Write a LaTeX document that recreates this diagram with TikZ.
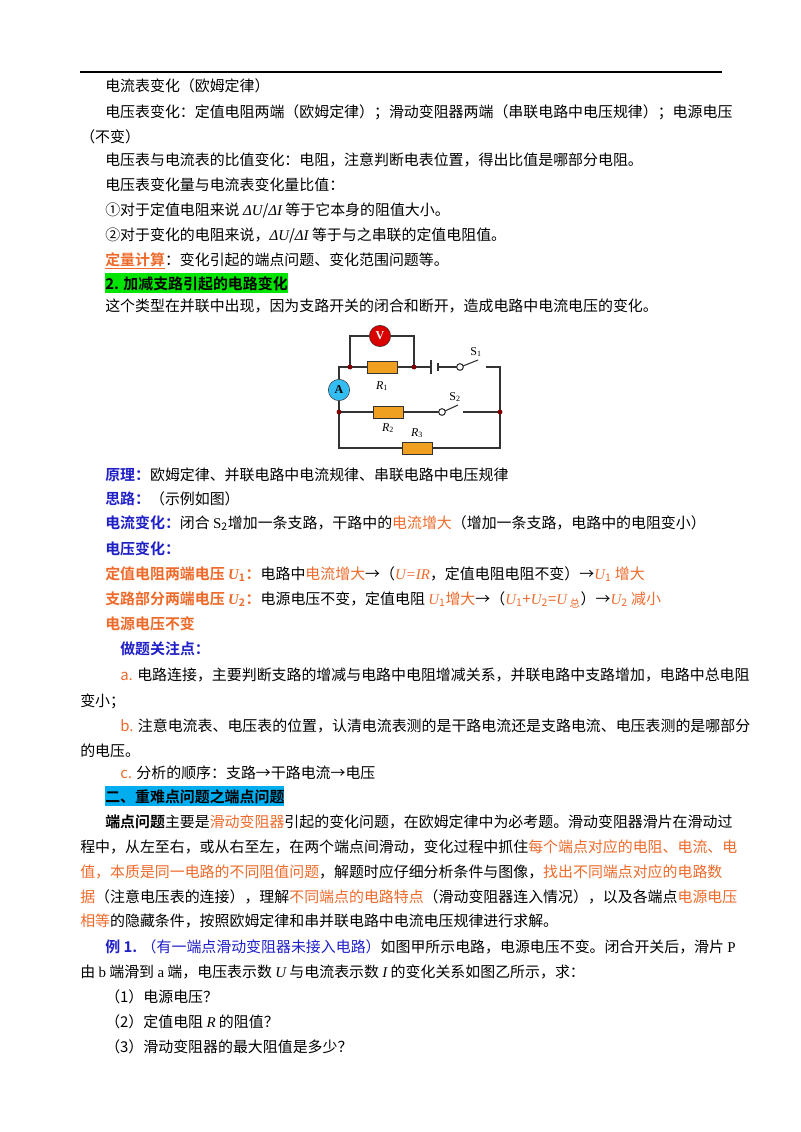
\documentclass[tikz,border=0pt]{standalone}
\usepackage{fontspec}
\setmainfont{Noto Sans CJK SC}[BoldFont={Noto Sans CJK SC Bold}]
\newfontfamily\lat{Liberation Serif}
\usepackage{xcolor}
\definecolor{orng}{HTML}{EE6A2A}
\definecolor{blu}{HTML}{1F1FC8}
\definecolor{wire}{HTML}{333333}
\definecolor{res}{HTML}{F0A020}
\newcommand{\hl}[1]{\textcolor{orng}{#1}}
\newcommand{\bhl}[1]{\textcolor{orng}{\bfseries #1}}
\newcommand{\bl}[1]{\textcolor{blu}{\bfseries #1}}
\newcommand{\vr}[1]{{\lat\itshape #1}}
\tikzset{
  ln/.style={anchor=base west,inner sep=0pt,font=\fontsize{11.2}{13}\selectfont},
  resbox/.style={draw=wire,fill=res,minimum width=22.5pt,minimum height=9pt,inner sep=0pt},
  meter/.style={circle,draw=wire,minimum size=16pt,inner sep=0pt,font=\lat\bfseries\small},
  dot/.style={circle,fill=red!50!black,inner sep=1.3pt},
  lbl/.style={font=\lat\itshape\small,inner sep=0pt}
}
\begin{document}
\begin{tikzpicture}[x=0.75pt,y=-0.75pt]
\useasboundingbox (0,0) rectangle (800,1132);
\draw[line width=0.8pt] (80,72) -- (722,72);
% text, first block
\node[ln] (l1) at (105,91) {电流表变化（欧姆定律）};
\node[ln] (l2) at (105,117) {电压表变化：定值电阻两端（欧姆定律）；滑动变阻器两端（串联电路中电压规律）；电源电压};
\node[ln] (l3) at (80,142) {（不变）};
\node[ln] (l4) at (105,165) {电压表与电流表的比值变化：电阻，注意判断电表位置，得出比值是哪部分电阻。};
\node[ln] (l5) at (105,190) {电压表变化量与电流表变化量比值：};
\node[ln] (l6) at (105,215) {①对于定值电阻来说 \vr{ΔU}/\vr{ΔI} 等于它本身的阻值大小。};
\node[ln] (l7) at (105,240) {②对于变化的电阻来说，\vr{ΔU}/\vr{ΔI} 等于与之串联的定值电阻值。};
\node[ln] (l8) at (105,265) {\bhl{\underline{定量计算}}：变化引起的端点问题、变化范围问题等。};
\node[ln,fill=green!90!black,inner ysep=2pt] (l9) at (105,289) {\bfseries 2. 加减支路引起的电路变化};
\node[ln] (l10) at (105,311) {这个类型在并联中出现，因为支路开关的闭合和断开，造成电路中电流电压的变化。};
% circuit
\coordinate (tl) at (350,367);
\coordinate (tr) at (414,367);
\coordinate (cl) at (339,367);
\coordinate (ml) at (339,412);
\coordinate (mr) at (500,412);
\coordinate (bl) at (339,448);
\coordinate (br) at (500,448);
\coordinate (rr) at (500,367);
\node[resbox] (r1) at (382,367) {};
\node[resbox] (r2) at (388,412) {};
\node[resbox] (r3) at (417,448) {};
\node[meter,fill=red!85!black,text=white] (vm) at (380,336) {V};
\node[meter,fill=cyan!80] (am) at (339,390) {A};
\draw[wire,thick] (tl) -- (r1) -- (tr) -- (431,367);
\draw[wire,line width=1.4pt] (431,360) -- (431,374);
\draw[wire,line width=2pt] (438,363) -- (438,371);
\draw[wire,thick] (438,367) -- (457,367);
\draw[wire,thick] (460,367) circle (2.5pt);
\draw[wire,thick] (463,366) -- (478,360);
\draw[wire,thick] (486,367) -- (rr) -- (br) -- (r3) -- (bl) -- (ml) -- (am) -- (cl) -- (tl);
\draw[wire,thick] (tl) |- (vm) -| (tr);
\draw[wire,thick] (ml) -- (r2) -- (439,412);
\draw[wire,thick] (442,412) circle (2.5pt);
\draw[wire,thick] (445,411) -- (458,405);
\draw[wire,thick] (463,412) -- (mr);
\foreach \p in {tl,tr,ml,mr} \node[dot] at (\p) {};
\node[lbl] (n1) at (382,386) {R\textsubscript{\upshape 1}};
\node[lbl] (n2) at (388,428) {R\textsubscript{\upshape 2}};
\node[lbl] (n3) at (417,433) {R\textsubscript{\upshape 3}};
\node[lbl,font=\lat\small] (s1) at (476,352) {S\textsubscript{1}};
\node[lbl,font=\lat\small] (s2) at (455,397) {S\textsubscript{2}};
% text, second block
\node[ln] (l11) at (105,480) {\bl{原理：}欧姆定律、并联电路中电流规律、串联电路中电压规律};
\node[ln] (l12) at (105,504) {\bl{思路：}（示例如图）};
\node[ln] (l13) at (105,528) {\bl{电流变化：}闭合 {\lat S}\textsubscript{2}增加一条支路，干路中的\hl{电流增大}（增加一条支路，电路中的电阻变小）};
\node[ln] (l14) at (105,554) {\bl{电压变化：}};
\node[ln] (l15) at (105,579) {\bhl{定值电阻两端电压 \vr{U}\textsubscript{1}：}电路中\hl{电流增大}→（\hl{\vr{U=IR}}，定值电阻电阻不变）→\hl{\vr{U}\textsubscript{1} 增大}};
\node[ln] (l16) at (105,604) {\bhl{支路部分两端电压 \vr{U}\textsubscript{2}：}电源电压不变，定值电阻 \hl{\vr{U}\textsubscript{1}增大}→（\hl{\vr{U}\textsubscript{1}+\vr{U}\textsubscript{2}=\vr{U}\,\textsubscript{总}}）→\hl{\vr{U}\textsubscript{2} 减小}};
\node[ln] (l17) at (105,629) {\bhl{电源电压不变}};
\node[ln] (l18) at (120,654) {\bl{做题关注点：}};
\node[ln] (l19) at (120,680) {\hl{a.} 电路连接，主要判断支路的增减与电路中电阻增减关系，并联电路中支路增加，电路中总电阻};
\node[ln] (l20) at (80,706) {变小；};
\node[ln] (l21) at (120,731) {\hl{b.} 注意电流表、电压表的位置，认清电流表测的是干路电流还是支路电流、电压表测的是哪部分};
\node[ln] (l22) at (80,756) {的电压。};
\node[ln] (l23) at (120,778) {\hl{c.} 分析的顺序：支路→干路电流→电压};
\node[ln,fill=cyan,inner ysep=2pt] (l24) at (105,802) {\bfseries 二、重难点问题之端点问题};
\node[ln] (l25) at (105,827) {\textbf{端点问题}主要是\hl{滑动变阻器}引起的变化问题，在欧姆定律中为必考题。滑动变阻器滑片在滑动过};
\node[ln] (l26) at (80,852) {程中，从左至右，或从右至左，在两个端点间滑动，变化过程中抓住\hl{每个端点对应的电阻、电流、电}};
\node[ln] (l27) at (80,877) {\hl{值，本质是同一电路的不同阻值问题}，解题时应仔细分析条件与图像，\hl{找出不同端点对应的电路数}};
\node[ln] (l28) at (80,902) {\hl{据}（注意电压表的连接），理解\hl{不同端点的电路特点}（滑动变阻器连入情况），以及各端点\hl{电源电压}};
\node[ln] (l29) at (80,926) {\hl{相等}的隐藏条件，按照欧姆定律和串并联电路中电流电压规律进行求解。};
\node[ln] (l30) at (105,952) {\bl{例 1.} \textcolor{blu}{（有一端点滑动变阻器未接入电路）}如图甲所示电路，电源电压不变。闭合开关后，滑片 {\lat P}};
\node[ln] (l31) at (80,977) {由 {\lat b} 端滑到 {\lat a} 端，电压表示数 \vr{U} 与电流表示数 \vr{I} 的变化关系如图乙所示，求：};
\node[ln] (l32) at (105,1002) {（1）电源电压？};
\node[ln] (l33) at (105,1027) {（2）定值电阻 \vr{R} 的阻值？};
\node[ln] (l34) at (105,1052) {（3）滑动变阻器的最大阻值是多少？};
\end{tikzpicture}
\end{document}
